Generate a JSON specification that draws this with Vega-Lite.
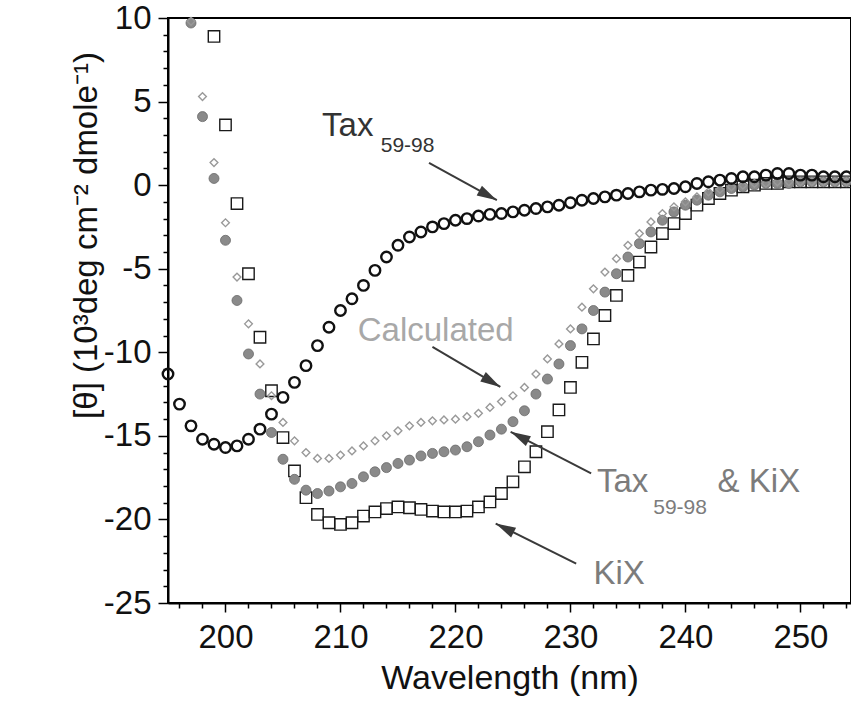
{
  "$schema": "https://vega.github.io/schema/vega-lite/v6.json",
  "width": 683,
  "height": 585,
  "autosize": {"type": "none"},
  "padding": {"left": 168, "top": 18, "right": 0, "bottom": 116},
  "background": "white",
  "config": {
    "view": {"stroke": "black", "strokeWidth": 2},
    "font": "Liberation Sans"
  },
  "datasets": {
    "spectra": [
      {"series": "Tax", "wl": 195, "theta": -11.3}, {"series": "Tax", "wl": 196, "theta": -13.1}, {"series": "Tax", "wl": 197, "theta": -14.4}, {"series": "Tax", "wl": 198, "theta": -15.2}, {"series": "Tax", "wl": 199, "theta": -15.5}, {"series": "Tax", "wl": 200, "theta": -15.7}, {"series": "Tax", "wl": 201, "theta": -15.6}, {"series": "Tax", "wl": 202, "theta": -15.2}, {"series": "Tax", "wl": 203, "theta": -14.6}, {"series": "Tax", "wl": 204, "theta": -13.7},
      {"series": "Tax", "wl": 205, "theta": -12.7}, {"series": "Tax", "wl": 206, "theta": -11.8}, {"series": "Tax", "wl": 207, "theta": -10.8}, {"series": "Tax", "wl": 208, "theta": -9.6}, {"series": "Tax", "wl": 209, "theta": -8.5}, {"series": "Tax", "wl": 210, "theta": -7.5}, {"series": "Tax", "wl": 211, "theta": -6.8}, {"series": "Tax", "wl": 212, "theta": -6.0}, {"series": "Tax", "wl": 213, "theta": -5.1}, {"series": "Tax", "wl": 214, "theta": -4.3},
      {"series": "Tax", "wl": 215, "theta": -3.6}, {"series": "Tax", "wl": 216, "theta": -3.1}, {"series": "Tax", "wl": 217, "theta": -2.8}, {"series": "Tax", "wl": 218, "theta": -2.5}, {"series": "Tax", "wl": 219, "theta": -2.3}, {"series": "Tax", "wl": 220, "theta": -2.1}, {"series": "Tax", "wl": 221, "theta": -2.0}, {"series": "Tax", "wl": 222, "theta": -1.85}, {"series": "Tax", "wl": 223, "theta": -1.75}, {"series": "Tax", "wl": 224, "theta": -1.7},
      {"series": "Tax", "wl": 225, "theta": -1.6}, {"series": "Tax", "wl": 226, "theta": -1.5}, {"series": "Tax", "wl": 227, "theta": -1.4}, {"series": "Tax", "wl": 228, "theta": -1.3}, {"series": "Tax", "wl": 229, "theta": -1.2}, {"series": "Tax", "wl": 230, "theta": -1.05}, {"series": "Tax", "wl": 231, "theta": -0.9}, {"series": "Tax", "wl": 232, "theta": -0.8}, {"series": "Tax", "wl": 233, "theta": -0.7}, {"series": "Tax", "wl": 234, "theta": -0.6},
      {"series": "Tax", "wl": 235, "theta": -0.5}, {"series": "Tax", "wl": 236, "theta": -0.4}, {"series": "Tax", "wl": 237, "theta": -0.3}, {"series": "Tax", "wl": 238, "theta": -0.25}, {"series": "Tax", "wl": 239, "theta": -0.2}, {"series": "Tax", "wl": 240, "theta": -0.1}, {"series": "Tax", "wl": 241, "theta": 0.1}, {"series": "Tax", "wl": 242, "theta": 0.2}, {"series": "Tax", "wl": 243, "theta": 0.3}, {"series": "Tax", "wl": 244, "theta": 0.4},
      {"series": "Tax", "wl": 245, "theta": 0.5}, {"series": "Tax", "wl": 246, "theta": 0.5}, {"series": "Tax", "wl": 247, "theta": 0.6}, {"series": "Tax", "wl": 248, "theta": 0.7}, {"series": "Tax", "wl": 249, "theta": 0.7}, {"series": "Tax", "wl": 250, "theta": 0.6}, {"series": "Tax", "wl": 251, "theta": 0.6}, {"series": "Tax", "wl": 252, "theta": 0.5}, {"series": "Tax", "wl": 253, "theta": 0.5}, {"series": "Tax", "wl": 254, "theta": 0.5},

      {"series": "KiX", "wl": 199, "theta": 8.9}, {"series": "KiX", "wl": 200, "theta": 3.6}, {"series": "KiX", "wl": 201, "theta": -1.1}, {"series": "KiX", "wl": 202, "theta": -5.3}, {"series": "KiX", "wl": 203, "theta": -9.1}, {"series": "KiX", "wl": 204, "theta": -12.3},
      {"series": "KiX", "wl": 205, "theta": -15.1}, {"series": "KiX", "wl": 206, "theta": -17.1}, {"series": "KiX", "wl": 207, "theta": -18.7}, {"series": "KiX", "wl": 208, "theta": -19.7}, {"series": "KiX", "wl": 209, "theta": -20.2}, {"series": "KiX", "wl": 210, "theta": -20.3}, {"series": "KiX", "wl": 211, "theta": -20.2}, {"series": "KiX", "wl": 212, "theta": -19.8}, {"series": "KiX", "wl": 213, "theta": -19.55}, {"series": "KiX", "wl": 214, "theta": -19.35},
      {"series": "KiX", "wl": 215, "theta": -19.25}, {"series": "KiX", "wl": 216, "theta": -19.3}, {"series": "KiX", "wl": 217, "theta": -19.4}, {"series": "KiX", "wl": 218, "theta": -19.5}, {"series": "KiX", "wl": 219, "theta": -19.55}, {"series": "KiX", "wl": 220, "theta": -19.55}, {"series": "KiX", "wl": 221, "theta": -19.5}, {"series": "KiX", "wl": 222, "theta": -19.25}, {"series": "KiX", "wl": 223, "theta": -18.95}, {"series": "KiX", "wl": 224, "theta": -18.45},
      {"series": "KiX", "wl": 225, "theta": -17.75}, {"series": "KiX", "wl": 226, "theta": -16.85}, {"series": "KiX", "wl": 227, "theta": -15.95}, {"series": "KiX", "wl": 228, "theta": -14.75}, {"series": "KiX", "wl": 229, "theta": -13.45}, {"series": "KiX", "wl": 230, "theta": -12.1}, {"series": "KiX", "wl": 231, "theta": -10.6}, {"series": "KiX", "wl": 232, "theta": -9.2}, {"series": "KiX", "wl": 233, "theta": -7.8}, {"series": "KiX", "wl": 234, "theta": -6.6},
      {"series": "KiX", "wl": 235, "theta": -5.4}, {"series": "KiX", "wl": 236, "theta": -4.6}, {"series": "KiX", "wl": 237, "theta": -3.7}, {"series": "KiX", "wl": 238, "theta": -2.9}, {"series": "KiX", "wl": 239, "theta": -2.3}, {"series": "KiX", "wl": 240, "theta": -1.7}, {"series": "KiX", "wl": 241, "theta": -1.2}, {"series": "KiX", "wl": 242, "theta": -0.8}, {"series": "KiX", "wl": 243, "theta": -0.5}, {"series": "KiX", "wl": 244, "theta": -0.3},
      {"series": "KiX", "wl": 245, "theta": -0.1}, {"series": "KiX", "wl": 246, "theta": 0.0}, {"series": "KiX", "wl": 247, "theta": 0.1}, {"series": "KiX", "wl": 248, "theta": 0.1}, {"series": "KiX", "wl": 249, "theta": 0.2}, {"series": "KiX", "wl": 250, "theta": 0.2}, {"series": "KiX", "wl": 251, "theta": 0.2}, {"series": "KiX", "wl": 252, "theta": 0.2}, {"series": "KiX", "wl": 253, "theta": 0.2}, {"series": "KiX", "wl": 254, "theta": 0.2},

      {"series": "Tax59-98 & KiX", "wl": 197, "theta": 9.7}, {"series": "Tax59-98 & KiX", "wl": 198, "theta": 4.1}, {"series": "Tax59-98 & KiX", "wl": 199, "theta": 0.4}, {"series": "Tax59-98 & KiX", "wl": 200, "theta": -3.3}, {"series": "Tax59-98 & KiX", "wl": 201, "theta": -6.9}, {"series": "Tax59-98 & KiX", "wl": 202, "theta": -10.1}, {"series": "Tax59-98 & KiX", "wl": 203, "theta": -12.5}, {"series": "Tax59-98 & KiX", "wl": 204, "theta": -14.8},
      {"series": "Tax59-98 & KiX", "wl": 205, "theta": -16.4}, {"series": "Tax59-98 & KiX", "wl": 206, "theta": -17.6}, {"series": "Tax59-98 & KiX", "wl": 207, "theta": -18.25}, {"series": "Tax59-98 & KiX", "wl": 208, "theta": -18.45}, {"series": "Tax59-98 & KiX", "wl": 209, "theta": -18.3}, {"series": "Tax59-98 & KiX", "wl": 210, "theta": -18.05}, {"series": "Tax59-98 & KiX", "wl": 211, "theta": -17.85}, {"series": "Tax59-98 & KiX", "wl": 212, "theta": -17.45}, {"series": "Tax59-98 & KiX", "wl": 213, "theta": -17.15}, {"series": "Tax59-98 & KiX", "wl": 214, "theta": -16.9},
      {"series": "Tax59-98 & KiX", "wl": 215, "theta": -16.65}, {"series": "Tax59-98 & KiX", "wl": 216, "theta": -16.45}, {"series": "Tax59-98 & KiX", "wl": 217, "theta": -16.2}, {"series": "Tax59-98 & KiX", "wl": 218, "theta": -16.05}, {"series": "Tax59-98 & KiX", "wl": 219, "theta": -15.95}, {"series": "Tax59-98 & KiX", "wl": 220, "theta": -15.85}, {"series": "Tax59-98 & KiX", "wl": 221, "theta": -15.65}, {"series": "Tax59-98 & KiX", "wl": 222, "theta": -15.35}, {"series": "Tax59-98 & KiX", "wl": 223, "theta": -14.95}, {"series": "Tax59-98 & KiX", "wl": 224, "theta": -14.6},
      {"series": "Tax59-98 & KiX", "wl": 225, "theta": -14.15}, {"series": "Tax59-98 & KiX", "wl": 226, "theta": -13.5}, {"series": "Tax59-98 & KiX", "wl": 227, "theta": -12.5}, {"series": "Tax59-98 & KiX", "wl": 228, "theta": -11.6}, {"series": "Tax59-98 & KiX", "wl": 229, "theta": -10.7}, {"series": "Tax59-98 & KiX", "wl": 230, "theta": -9.6}, {"series": "Tax59-98 & KiX", "wl": 231, "theta": -8.6}, {"series": "Tax59-98 & KiX", "wl": 232, "theta": -7.5}, {"series": "Tax59-98 & KiX", "wl": 233, "theta": -6.4}, {"series": "Tax59-98 & KiX", "wl": 234, "theta": -5.3},
      {"series": "Tax59-98 & KiX", "wl": 235, "theta": -4.3}, {"series": "Tax59-98 & KiX", "wl": 236, "theta": -3.5}, {"series": "Tax59-98 & KiX", "wl": 237, "theta": -2.8}, {"series": "Tax59-98 & KiX", "wl": 238, "theta": -2.1}, {"series": "Tax59-98 & KiX", "wl": 239, "theta": -1.6}, {"series": "Tax59-98 & KiX", "wl": 240, "theta": -1.2}, {"series": "Tax59-98 & KiX", "wl": 241, "theta": -0.9}, {"series": "Tax59-98 & KiX", "wl": 242, "theta": -0.6}, {"series": "Tax59-98 & KiX", "wl": 243, "theta": -0.4}, {"series": "Tax59-98 & KiX", "wl": 244, "theta": -0.2},
      {"series": "Tax59-98 & KiX", "wl": 245, "theta": -0.1}, {"series": "Tax59-98 & KiX", "wl": 246, "theta": 0.0}, {"series": "Tax59-98 & KiX", "wl": 247, "theta": 0.1}, {"series": "Tax59-98 & KiX", "wl": 248, "theta": 0.1}, {"series": "Tax59-98 & KiX", "wl": 249, "theta": 0.1}, {"series": "Tax59-98 & KiX", "wl": 250, "theta": 0.2}, {"series": "Tax59-98 & KiX", "wl": 251, "theta": 0.2}, {"series": "Tax59-98 & KiX", "wl": 252, "theta": 0.2}, {"series": "Tax59-98 & KiX", "wl": 253, "theta": 0.2}, {"series": "Tax59-98 & KiX", "wl": 254, "theta": 0.2},

      {"series": "Calculated", "wl": 197, "theta": 9.8}, {"series": "Calculated", "wl": 198, "theta": 5.3}, {"series": "Calculated", "wl": 199, "theta": 1.35}, {"series": "Calculated", "wl": 200, "theta": -2.25}, {"series": "Calculated", "wl": 201, "theta": -5.5}, {"series": "Calculated", "wl": 202, "theta": -8.3}, {"series": "Calculated", "wl": 203, "theta": -10.7}, {"series": "Calculated", "wl": 204, "theta": -12.6},
      {"series": "Calculated", "wl": 205, "theta": -14.2}, {"series": "Calculated", "wl": 206, "theta": -15.3}, {"series": "Calculated", "wl": 207, "theta": -16.0}, {"series": "Calculated", "wl": 208, "theta": -16.35}, {"series": "Calculated", "wl": 209, "theta": -16.35}, {"series": "Calculated", "wl": 210, "theta": -16.15}, {"series": "Calculated", "wl": 211, "theta": -15.9}, {"series": "Calculated", "wl": 212, "theta": -15.6}, {"series": "Calculated", "wl": 213, "theta": -15.3}, {"series": "Calculated", "wl": 214, "theta": -15.0},
      {"series": "Calculated", "wl": 215, "theta": -14.7}, {"series": "Calculated", "wl": 216, "theta": -14.4}, {"series": "Calculated", "wl": 217, "theta": -14.2}, {"series": "Calculated", "wl": 218, "theta": -14.1}, {"series": "Calculated", "wl": 219, "theta": -14.05}, {"series": "Calculated", "wl": 220, "theta": -14.0}, {"series": "Calculated", "wl": 221, "theta": -13.85}, {"series": "Calculated", "wl": 222, "theta": -13.65}, {"series": "Calculated", "wl": 223, "theta": -13.3}, {"series": "Calculated", "wl": 224, "theta": -12.95},
      {"series": "Calculated", "wl": 225, "theta": -12.6}, {"series": "Calculated", "wl": 226, "theta": -12.1}, {"series": "Calculated", "wl": 227, "theta": -11.3}, {"series": "Calculated", "wl": 228, "theta": -10.4}, {"series": "Calculated", "wl": 229, "theta": -9.5}, {"series": "Calculated", "wl": 230, "theta": -8.6}, {"series": "Calculated", "wl": 231, "theta": -7.3}, {"series": "Calculated", "wl": 232, "theta": -6.2}, {"series": "Calculated", "wl": 233, "theta": -5.2}, {"series": "Calculated", "wl": 234, "theta": -4.4},
      {"series": "Calculated", "wl": 235, "theta": -3.6}, {"series": "Calculated", "wl": 236, "theta": -2.9}, {"series": "Calculated", "wl": 237, "theta": -2.2}, {"series": "Calculated", "wl": 238, "theta": -1.7}, {"series": "Calculated", "wl": 239, "theta": -1.3}, {"series": "Calculated", "wl": 240, "theta": -1.0}, {"series": "Calculated", "wl": 241, "theta": -0.7}, {"series": "Calculated", "wl": 242, "theta": -0.4}, {"series": "Calculated", "wl": 243, "theta": -0.25}, {"series": "Calculated", "wl": 244, "theta": -0.1},
      {"series": "Calculated", "wl": 245, "theta": 0.0}, {"series": "Calculated", "wl": 246, "theta": 0.1}, {"series": "Calculated", "wl": 247, "theta": 0.1}, {"series": "Calculated", "wl": 248, "theta": 0.2}, {"series": "Calculated", "wl": 249, "theta": 0.2}, {"series": "Calculated", "wl": 250, "theta": 0.2}, {"series": "Calculated", "wl": 251, "theta": 0.2}, {"series": "Calculated", "wl": 252, "theta": 0.2}, {"series": "Calculated", "wl": 253, "theta": 0.2}, {"series": "Calculated", "wl": 254, "theta": 0.2}
    ],
    "notes": [
      {"note": "Tax59-98", "part": "main", "text": "Tax", "wl": 208.4, "theta": 2.93},
      {"note": "Tax59-98", "part": "sub", "text": "59-98", "wl": 213.5, "theta": 1.97},
      {"note": "Calculated", "part": "main", "text": "Calculated", "wl": 211.5, "theta": -9.3},
      {"note": "Tax59-98 & KiX", "part": "main", "text": "Tax", "wl": 232.3, "theta": -18.35},
      {"note": "Tax59-98 & KiX", "part": "sub", "text": "59-98", "wl": 237.2, "theta": -19.65},
      {"note": "Tax59-98 & KiX", "part": "main", "text": "& KiX", "wl": 242.8, "theta": -18.35},
      {"note": "KiX", "part": "main", "text": "KiX", "wl": 232.0, "theta": -23.84}
    ],
    "arrows": [
      {"note": "Tax59-98", "wl": 217.7, "theta": 1.33, "wl2": 223.6, "theta2": -0.9, "heading": 118.6},
      {"note": "Calculated", "wl": 218.0, "theta": -9.68, "wl2": 223.9, "theta2": -12.07, "heading": 120.3},
      {"note": "Tax59-98 & KiX", "wl": 231.8, "theta": -17.25, "wl2": 224.8, "theta2": -14.76, "heading": 297.5},
      {"note": "KiX", "wl": 230.5, "theta": -22.64, "wl2": 223.5, "theta2": -20.25, "heading": 296.6}
    ]
  },
  "encoding": {
    "x": {"field": "wl", "type": "quantitative", "scale": {"domain": [195, 254.4], "nice": false, "zero": false}, "axis": null},
    "y": {"field": "theta", "type": "quantitative", "scale": {"domain": [-25, 10], "nice": false, "zero": false}, "axis": null}
  },
  "resolve": {"axis": {"x": "independent", "y": "independent"}},
  "layer": [
    {
      "description": "minor ticks: every 2 nm and every 1 unit, no labels",
      "data": {"name": "spectra"},
      "mark": {"type": "point", "opacity": 0},
      "encoding": {
        "x": {
          "field": "wl", "type": "quantitative",
          "scale": {"domain": [195, 254.4], "nice": false, "zero": false},
          "axis": {
            "orient": "bottom",
            "values": [196, 198, 202, 204, 206, 208, 212, 214, 216, 218, 222, 224, 226, 228, 232, 234, 236, 238, 242, 244, 246, 248, 252, 254],
            "labels": false, "domain": false, "grid": false, "title": null,
            "tickColor": "black", "tickWidth": 1.5, "tickSize": 5
          }
        },
        "y": {
          "field": "theta", "type": "quantitative",
          "scale": {"domain": [-25, 10], "nice": false, "zero": false},
          "axis": {
            "orient": "left",
            "values": [-24, -23, -22, -21, -19, -18, -17, -16, -14, -13, -12, -11, -9, -8, -7, -6, -4, -3, -2, -1, 1, 2, 3, 4, 6, 7, 8, 9],
            "labels": false, "domain": false, "grid": false, "title": null,
            "tickColor": "black", "tickWidth": 1.5, "tickSize": 5
          }
        }
      }
    },
    {
      "description": "major ticks with labels and titles",
      "data": {"name": "spectra"},
      "mark": {"type": "point", "opacity": 0},
      "encoding": {
        "x": {
          "field": "wl", "type": "quantitative", "title": "Wavelength (nm)",
          "scale": {"domain": [195, 254.4], "nice": false, "zero": false},
          "axis": {
            "orient": "bottom",
            "values": [200, 210, 220, 230, 240, 250],
            "labelExpr": "'' + datum.value",
            "grid": false,
            "domainColor": "black", "domainWidth": 2,
            "tickColor": "black", "tickWidth": 1.5, "tickSize": 9,
            "labelFont": "Liberation Sans", "labelFontSize": 33, "labelColor": "#111", "labelPadding": 9,
            "labelOverlap": false, "labelFlush": false,
            "titleFont": "Liberation Sans", "titleFontSize": 34, "titleFontWeight": "normal", "titleColor": "#111",
            "titleBaseline": "alphabetic", "titleY": 85
          }
        },
        "y": {
          "field": "theta", "type": "quantitative", "title": "[θ] (10³deg cm⁻² dmole⁻¹)",
          "scale": {"domain": [-25, 10], "nice": false, "zero": false},
          "axis": {
            "orient": "left",
            "values": [-25, -20, -15, -10, -5, 0, 5, 10],
            "labelExpr": "'' + datum.value",
            "grid": false,
            "domainColor": "black", "domainWidth": 2,
            "tickColor": "black", "tickWidth": 1.5, "tickSize": 10,
            "labelFont": "Liberation Sans", "labelFontSize": 33, "labelColor": "#111", "labelPadding": 7,
            "labelOverlap": false, "labelFlush": false,
            "titleFont": "Liberation Sans", "titleFontSize": 33, "titleFontWeight": "normal", "titleColor": "#111",
            "titleAngle": 270, "titleAlign": "center", "titleBaseline": "alphabetic",
            "titleX": -72, "titleY": 217
          }
        }
      }
    },
    {
      "data": {"name": "spectra"},
      "transform": [{"filter": "datum.series === 'KiX'"}],
      "mark": {"type": "point", "shape": "square", "filled": false, "stroke": "#1a1a1a", "strokeWidth": 1.4, "size": 130, "opacity": 1}
    },
    {
      "data": {"name": "spectra"},
      "transform": [{"filter": "datum.series === 'Tax59-98 & KiX'"}],
      "mark": {"type": "point", "shape": "circle", "filled": true, "fill": "#8a8a8a", "stroke": "#6a6a6a", "strokeWidth": 0.8, "size": 100, "opacity": 1}
    },
    {
      "data": {"name": "spectra"},
      "transform": [{"filter": "datum.series === 'Calculated'"}],
      "mark": {"type": "point", "shape": "diamond", "filled": false, "stroke": "#999999", "strokeWidth": 1.4, "size": 60, "opacity": 1}
    },
    {
      "data": {"name": "spectra"},
      "transform": [{"filter": "datum.series === 'Tax'"}],
      "mark": {"type": "point", "shape": "circle", "filled": false, "stroke": "#111111", "strokeWidth": 2.4, "size": 110, "opacity": 1}
    },
    {
      "data": {"name": "arrows"},
      "mark": {"type": "rule", "color": "#3a3a3a", "strokeWidth": 2},
      "encoding": {
        "x2": {"field": "wl2"},
        "y2": {"field": "theta2"}
      }
    },
    {
      "data": {"name": "arrows"},
      "mark": {"type": "point", "shape": "M0,0L-0.55,2L0.55,2Z", "filled": true, "color": "#3a3a3a", "size": 400, "opacity": 1},
      "encoding": {
        "x": {"field": "wl2", "type": "quantitative", "axis": null},
        "y": {"field": "theta2", "type": "quantitative", "axis": null},
        "angle": {"field": "heading", "type": "quantitative", "scale": null}
      }
    },
    {
      "data": {"name": "notes"},
      "transform": [{"filter": "datum.part === 'main'"}],
      "mark": {"type": "text", "align": "left", "baseline": "alphabetic", "font": "Liberation Sans", "fontSize": 33},
      "encoding": {
        "text": {"field": "text"},
        "color": {"field": "note", "type": "nominal", "legend": null, "scale": {"domain": ["Tax59-98", "Calculated", "Tax59-98 & KiX", "KiX"], "range": ["#333333", "#a8a8a8", "#7c7c7c", "#7c7c7c"]}}
      }
    },
    {
      "data": {"name": "notes"},
      "transform": [{"filter": "datum.part === 'sub'"}],
      "mark": {"type": "text", "align": "left", "baseline": "alphabetic", "font": "Liberation Sans", "fontSize": 21},
      "encoding": {
        "text": {"field": "text"},
        "color": {"field": "note", "type": "nominal", "legend": null}
      }
    }
  ]
}
